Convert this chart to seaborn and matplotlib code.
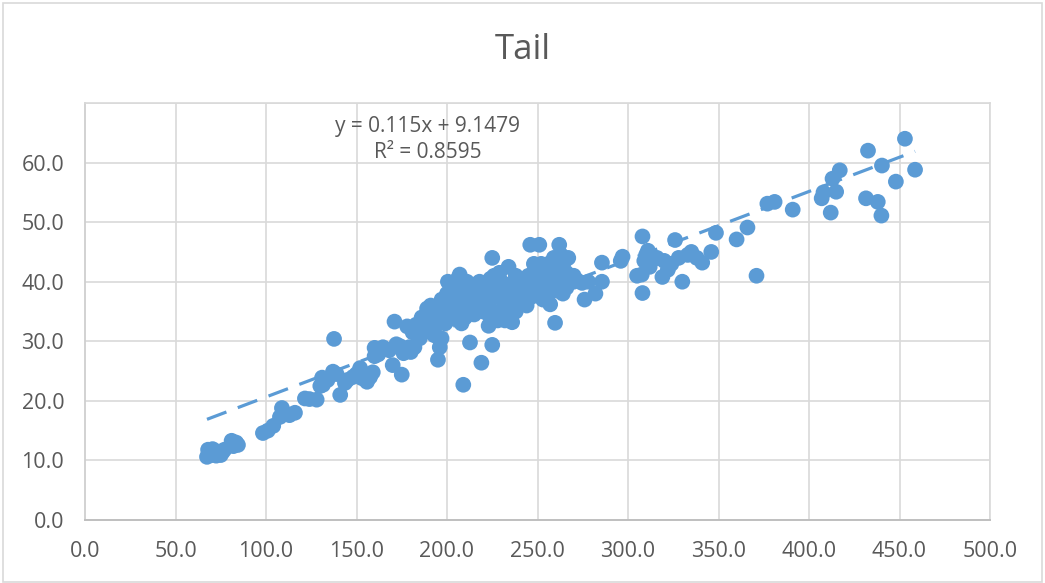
import numpy as np
import pandas as pd
import seaborn as sns
import matplotlib
matplotlib.use("Agg")
import matplotlib.pyplot as plt
from matplotlib.ticker import FormatStrFormatter
from matplotlib.patches import Rectangle

# ---- data ----
x_vals = [
    67.4, 68, 69, 70, 70.5, 71.5, 72.5, 73, 74, 75, 76, 77, 81, 82, 83.5, 84.5,
    98.3, 101, 104, 107.7, 108.8, 110, 113, 116, 121.5, 124, 128, 130, 131, 131.5,
    134, 137, 137.6, 139, 141, 143.6, 145, 148, 150, 152, 153, 155.8, 157.5, 159,
    160, 160, 162, 164.6, 168, 170, 171, 172, 174, 175, 176, 178, 179, 180, 182,
    183, 185, 186, 187, 188, 189, 190, 191, 192, 193, 194, 195, 196, 197, 198,
    199, 200, 200.5, 201, 202, 203, 204, 205, 206, 207, 208, 209, 210, 211, 212,
    212.7, 214, 215, 216, 217, 218, 219, 220, 221, 222, 223, 224, 225, 225, 226,
    227, 228, 229, 230, 231, 232, 233, 234, 235, 236, 237, 238, 239, 240, 241,
    242, 243, 244, 245, 246, 247, 248, 249, 250, 251, 252, 253, 254, 255, 256,
    257, 258, 259, 259.7, 261, 262, 263, 264, 265, 266, 267, 268, 270, 272,
    274.6, 276, 278, 282, 285.6, 285.6, 296, 297, 305, 307.6, 308, 308, 309, 310,
    311, 312, 314, 316, 319, 320, 322, 324, 326, 328, 330, 333, 335, 338, 341,
    346, 348.6, 360, 366, 371, 377, 381, 391, 407, 408, 412, 413, 415, 417,
    431.5, 432.6, 438, 440, 440.3, 448, 453, 458.6,
    195, 198, 203, 206, 209, 213, 218, 222, 226, 229, 233, 236, 240, 243, 246,
    250, 253, 256, 260, 263, 244, 232, 228, 238, 215, 211, 208, 204,
    192, 197, 201, 205, 210, 214, 219, 223, 227, 231, 235, 239, 243, 247, 252,
    256, 261, 266, 270, 248, 220, 186, 181,
]
y_vals = [
    10.6, 11.8, 11.2, 10.9, 11.9, 11.3, 10.8, 11.5, 11.2, 10.9, 11.4, 11.8, 13.3, 12.4, 13.0, 12.6,
    14.6, 15.0, 15.8, 17.3, 18.8, 18.0, 17.6, 18.0, 20.4, 20.3, 20.2, 22.5, 23.9, 22.7,
    23.5, 24.9, 30.4, 24.5, 21.0, 23.0, 23.5, 24.0, 24.5, 25.5, 23.8, 23.2, 24.0, 24.8,
    27.5, 28.9, 27.8, 29.0, 28.5, 26.0, 33.3, 29.5, 29.2, 24.4, 28.0, 32.5, 29.0, 28.2, 29.0,
    32.8, 30.5, 34.0, 31.5, 33.5, 35.5, 32.5, 36.0, 34.0, 31.0, 35.0, 26.9, 29.0, 30.5, 36.0,
    33.0, 38.0, 40.0, 35.0, 36.5, 33.8, 37.5, 39.0, 36.0, 41.2, 38.0, 22.7, 34.0, 37.0, 38.5,
    29.8, 35.5, 34.5, 37.5, 39.0, 36.5, 26.4, 38.5, 36.0, 39.5, 32.6, 40.5, 29.4, 44.0, 41.0,
    37.5, 38.5, 35.0, 40.0, 39.0, 36.0, 37.5, 42.5, 34.0, 33.2, 38.0, 41.0, 39.5, 36.5, 40.0,
    38.0, 37.0, 39.0, 41.0, 46.2, 37.5, 39.5, 42.0, 38.0, 46.2, 43.0, 40.0, 38.5, 41.5, 39.0,
    36.2, 38.5, 44.0, 33.1, 42.0, 46.2, 40.0, 38.0, 43.5, 39.0, 44.0, 41.0, 40.0, 40.2,
    39.8, 37.0, 40.0, 38.0, 43.2, 40.0, 43.5, 44.2, 41.0, 41.2, 47.6, 38.1, 43.5, 44.5,
    45.2, 42.5, 43.8, 44.0, 40.8, 43.5, 42.0, 43.0, 47.0, 44.0, 40.0, 44.5, 45.0, 44.0, 43.2,
    45.0, 48.2, 47.1, 49.1, 41.0, 53.1, 53.4, 52.1, 54.0, 55.0, 51.6, 57.3, 55.1, 58.7,
    54.0, 62.0, 53.4, 51.1, 59.5, 56.8, 64.0, 58.8,
    33.0, 34.5, 38.0, 40.5, 36.0, 37.0, 40.0, 37.0, 35.0, 41.5, 39.5, 36.5, 38.5, 40.5, 38.0,
    41.0, 37.0, 43.0, 40.5, 44.5, 36.0, 33.5, 33.5, 35.0, 39.5, 40.0, 33.0, 34.5,
    35.0, 37.0, 36.0, 34.8, 38.8, 38.0, 37.0, 34.5, 40.0, 37.0, 37.5, 37.0, 39.0, 40.5, 39.5,
    40.8, 38.5, 41.5, 41.0, 43.0, 35.0, 32.0, 31.5,
]
trend_slope = 0.115
trend_intercept = 9.1479
r_squared = 0.8595
chart_title = "Tail"
x_ticks = [0, 50, 100, 150, 200, 250, 300, 350, 400, 450, 500]
y_ticks = [0, 10, 20, 30, 40, 50, 60]

df = pd.DataFrame({"x": x_vals, "y": y_vals})

# ---- style ----
sns.set_theme(style="white")
plt.rcParams["font.family"] = ["Open Sans", "DejaVu Sans"]

BLUE = "#5B9BD5"
GRID = "#d9d9d9"
TXT = "#595959"

fig = plt.figure(figsize=(10.45, 5.83), dpi=100)
ax = fig.add_axes([85 / 1045, 1 - 520 / 583, (990 - 85) / 1045, (520 - 103) / 583])

sns.scatterplot(data=df, x="x", y="y", ax=ax, color=BLUE, s=128,
                edgecolor="none", linewidth=0, zorder=3, legend=False)

# linear trendline (coefficients as shown on the chart)
xs = np.array([min(x_vals), max(x_vals)])
ax.plot(xs, trend_slope * xs + trend_intercept, color=BLUE, lw=2.3,
        linestyle=(0, (6.5, 3.8)), zorder=4)

ax.set_xlim(0, 500)
ax.set_ylim(0, 70)
ax.set_xticks(x_ticks)
ax.set_yticks(y_ticks)
ax.xaxis.set_major_formatter(FormatStrFormatter("%.1f"))
ax.yaxis.set_major_formatter(FormatStrFormatter("%.1f"))
ax.set_xlabel("")
ax.set_ylabel("")

for yy in [10, 20, 30, 40, 50, 60, 70]:
    ax.axhline(yy, color=GRID, lw=1.2, zorder=1)
for xx in x_ticks[1:]:
    ax.axvline(xx, color=GRID, lw=1.2, zorder=1)

ax.tick_params(axis="both", length=0, labelsize=15.5, labelcolor=TXT)
ax.tick_params(axis="x", pad=15)
ax.tick_params(axis="y", pad=15)

for side in ["top", "right"]:
    ax.spines[side].set_color(GRID)
    ax.spines[side].set_linewidth(1.2)
ax.spines["left"].set_color("#cfcfcf")
ax.spines["left"].set_linewidth(1.3)
ax.spines["bottom"].set_color("#bfbfbf")
ax.spines["bottom"].set_linewidth(1.4)

ax.text(189.5, 66.0, f"y = {trend_slope}x + {trend_intercept}", ha="center", va="center",
        fontsize=15, color=TXT, zorder=5)
ax.text(189.5, 61.7, f"R² = {r_squared}", ha="center", va="center",
        fontsize=15, color=TXT, zorder=5)

fig.text(0.5, 1 - 50 / 583, chart_title, ha="center", va="center", fontsize=25, color=TXT)

fig.patches.append(Rectangle((3 / 1045, 1 / 583), 1039 / 1045, 579 / 583,
                             transform=fig.transFigure, fill=False,
                             edgecolor=GRID, lw=1.2))

fig.savefig("out.png", dpi=100, facecolor="white")
